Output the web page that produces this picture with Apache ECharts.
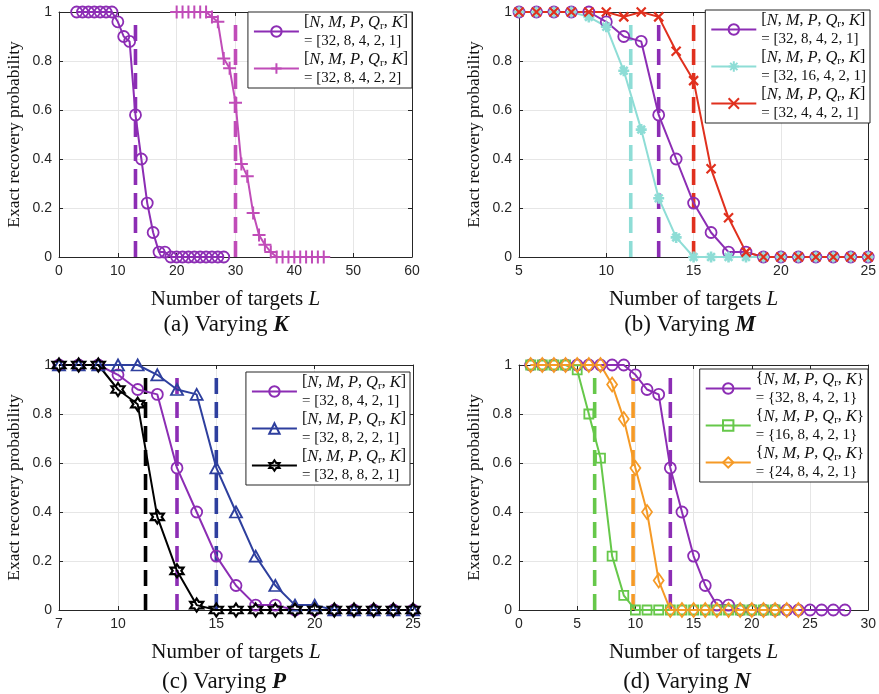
<!DOCTYPE html>
<html><head><meta charset="utf-8">
<script src="https://cdn.jsdelivr.net/npm/echarts@6/dist/echarts.min.js"></script>
<style>html,body{margin:0;padding:0;background:#fff}#c{width:879px;height:694px}</style>
</head><body><div id="c"></div>
<script>
// ---------- data ----------
const yTicks = [0, 0.2, 0.4, 0.6, 0.8, 1];
// (a) Varying K
const aL1 = [3,4,5,6,7,8,9,10,11,12,13,14,15,16,17,18,19,20,21,22,23,24,25,26,27,28];
const aV1 = [1,1,1,1,1,1,1,0.96,0.9,0.88,0.58,0.4,0.22,0.1,0.02,0.02,0,0,0,0,0,0,0,0,0,0];
const aL2 = [20,21,22,23,24,25,26,27,28,29,30,31,32,33,34,35,36,37,38,39,40,41,42,43,44,45];
const aV2 = [1,1,1,1,1,1,0.98,0.96,0.81,0.77,0.63,0.38,0.33,0.18,0.09,0.05,0.02,0,0,0,0,0,0,0,0,0];
const aDash = [13, 30];
// (b) Varying M
const bL = [5,6,7,8,9,10,11,12,13,14,15,16,17,18,19,20,21,22,23,24,25];
const bV8 = [1,1,1,1,1,0.96,0.9,0.88,0.58,0.4,0.22,0.1,0.02,0.02,0,0,0,0,0,0,0];
const bV16 = [1,1,1,1,0.98,0.94,0.76,0.52,0.24,0.08,0,0,0,0,0,0,0,0,0,0,0];
const bV4 = [1,1,1,1,1,1,0.98,1,0.98,0.84,0.72,0.36,0.16,0.02,0,0,0,0,0,0,0];
const bDash = [11.4, 13, 15];
// (c) Varying P
const cL = [7,8,9,10,11,12,13,14,15,16,17,18,19,20,21,22,23,24,25];
const cV4 = [1,1,1,0.96,0.9,0.88,0.58,0.4,0.22,0.1,0.02,0.02,0,0,0,0,0,0,0];
const cV2 = [1,1,1,1,1,0.96,0.9,0.88,0.58,0.4,0.22,0.1,0.02,0.02,0,0,0,0,0];
const cV8 = [1,1,1,0.9,0.84,0.38,0.16,0.02,0,0,0,0,0,0,0,0,0,0,0];
const cDash = [11.4, 13, 15];
const cXTicks = [7, 10, 15, 20, 25];
// (d) Varying N
const dL32 = [1,2,3,4,5,6,7,8,9,10,11,12,13,14,15,16,17,18,19,20,21,22,23,24,25,26,27,28];
const dV32 = [1,1,1,1,1,1,1,1,1,0.96,0.9,0.88,0.58,0.4,0.22,0.1,0.02,0.02,0,0,0,0,0,0,0,0,0,0];
const dL16 = [1,2,3,4,5,6,7,8,9,10,11,12,13,14,15,16,17,18,19,20,21,22];
const dV16 = [1,1,1,1,0.98,0.8,0.62,0.22,0.06,0,0,0,0,0,0,0,0,0,0,0,0,0];
const dL24 = [1,2,3,4,5,6,7,8,9,10,11,12,13,14,15,16,17,18,19,20,21,22,23,24];
const dV24 = [1,1,1,1,1,1,1,0.92,0.78,0.58,0.4,0.12,0,0,0,0,0,0,0,0,0,0,0,0];
const dDash = [6.5, 9.8, 13];
const DASH_TOP = 0.97;

// ---------- styles ----------
const C = {
  purple: '#8C2DB4', pink: '#C04CB8', cyan: '#8EDDD6', red: '#E0301E',
  blue: '#2E3F9E', black: '#000000', green: '#66C84A', orange: '#F59A26'
};
const SYM = {
  plus: 'path://M0,-10L0,10M-10,0L10,0',
  star: 'path://M0,-10L0,10M-10,0L10,0M-7,-7L7,7M-7,7L7,-7',
  cross: 'path://M-10,-10L10,10M-10,10L10,-10',
  hexa: 'path://M0,-10L2.887,-5L8.66,-5L5.77,0L8.66,5L2.887,5L0,10L-2.887,5L-8.66,5L-5.77,0L-8.66,-5L-2.887,-5Z'
};
const SERIF = 'Liberation Serif';
const SANS = 'Liberation Sans';
const AX = '#262626';

const grids = [
  {left: 59, top: 12, width: 353, height: 245},
  {left: 519, top: 12, width: 351, height: 245},
  {left: 59, top: 365, width: 354, height: 245},
  {left: 519, top: 365, width: 351, height: 245}
];
const xr = [
  {min: 0, max: 60, interval: 10},
  {min: 5, max: 25, interval: 5},
  {min: 7, max: 25, custom: cXTicks},
  {min: 0, max: 30, interval: 5}
];

const xAxes = [], yAxes = [];
grids.forEach((g, i) => {
  const r = xr[i];
  const base = {type: 'value', gridIndex: i, min: r.min, max: r.max};
  if (r.interval) base.interval = r.interval;
  const tick = {show: true, inside: true, length: 4, lineStyle: {color: AX, width: 1}};
  const lab = {show: true, color: AX, fontFamily: SANS, fontSize: 14, margin: 7, showMinLabel: true, showMaxLabel: true};
  if (r.custom) { tick.customValues = r.custom; lab.customValues = r.custom; }
  xAxes.push(Object.assign({}, base, {
    position: 'bottom',
    axisLine: {show: true, onZero: false, lineStyle: {color: AX, width: 1}},
    axisTick: tick, axisLabel: lab,
    splitLine: {show: true, lineStyle: {color: '#E6E6E6', width: 1}},
    name: 'Number of targets {i|L}', nameLocation: 'middle', nameGap: 32,
    nameTextStyle: {fontFamily: SERIF, fontSize: 21, color: '#111',
      rich: {i: {fontFamily: SERIF, fontSize: 21, fontStyle: 'italic', color: '#111'}}}
  }));
  xAxes.push(Object.assign({}, base, {
    position: 'top',
    axisLine: {show: true, onZero: false, lineStyle: {color: AX, width: 1}},
    axisTick: Object.assign({}, tick), axisLabel: {show: false}, splitLine: {show: false}
  }));
  const ybase = {type: 'value', gridIndex: i, min: 0, max: 1, interval: 0.2};
  yAxes.push(Object.assign({}, ybase, {
    position: 'left',
    axisLine: {show: true, onZero: false, lineStyle: {color: AX, width: 1}},
    axisTick: {show: true, inside: true, length: 4, lineStyle: {color: AX}},
    axisLabel: {show: true, color: AX, fontFamily: SANS, fontSize: 14, margin: 7},
    splitLine: {show: true, lineStyle: {color: '#E6E6E6', width: 1}},
    name: 'Exact recovery probability', nameLocation: 'middle', nameGap: 36,
    nameTextStyle: {fontFamily: SERIF, fontSize: 17.5, color: '#111'}
  }));
  yAxes.push(Object.assign({}, ybase, {
    position: 'right',
    axisLine: {show: true, onZero: false, lineStyle: {color: AX, width: 1}},
    axisTick: {show: true, inside: true, length: 4, lineStyle: {color: AX}},
    axisLabel: {show: false}, splitLine: {show: false}
  }));
});

function mk(name, xs, ys, color, symbol, size, gi, bw) {
  return {
    type: 'line', name, xAxisIndex: 2 * gi, yAxisIndex: 2 * gi,
    data: xs.map((x, k) => [x, ys[k]]),
    symbol, symbolSize: size, showSymbol: true, showAllSymbol: true, clip: false,
    color, lineStyle: {color, width: 2},
    itemStyle: {color: 'rgba(255,255,255,0)', borderColor: color, borderWidth: bw || 1.8},
    emphasis: {disabled: true}, z: 3
  };
}
function dash(L, color, gi) {
  return {
    type: 'line', xAxisIndex: 2 * gi, yAxisIndex: 2 * gi,
    data: [[L, 0], [L, DASH_TOP]], symbol: 'none', silent: true,
    lineStyle: {color, width: 3.6, type: [16, 8]}, z: 2, emphasis: {disabled: true}
  };
}

const series = [
  dash(aDash[0], C.purple, 0), dash(aDash[1], C.pink, 0),
  mk('a1', aL1, aV1, C.purple, 'circle', 11, 0),
  mk('a2', aL2, aV2, C.pink, SYM.plus, 13, 0, 2),
  dash(bDash[0], C.cyan, 1), dash(bDash[1], C.purple, 1), dash(bDash[2], C.red, 1),
  mk('b1', bL, bV8, C.purple, 'circle', 11, 1),
  mk('b2', bL, bV16, C.cyan, SYM.star, 11, 1, 2.6),
  mk('b3', bL, bV4, C.red, SYM.cross, 9, 1, 2.2),
  dash(cDash[0], C.black, 2), dash(cDash[1], C.purple, 2), dash(cDash[2], C.blue, 2),
  mk('c1', cL, cV4, C.purple, 'circle', 11, 2),
  mk('c2', cL, cV2, C.blue, 'triangle', [12, 11], 2),
  mk('c3', cL, cV8, C.black, SYM.hexa, 13, 2, 2.2),
  dash(dDash[0], C.green, 3), dash(dDash[1], C.orange, 3), dash(dDash[2], C.purple, 3),
  mk('d1', dL32, dV32, C.purple, 'circle', 11, 3),
  mk('d2', dL16, dV16, C.green, 'rect', 9, 3),
  mk('d3', dL24, dV24, C.orange, 'diamond', [10, 14], 3)
];

const HEAD_SQ = '{p|[}{i|N}{p|, }{i|M}{p|, }{i|P}{p|, }{i|Q}{s|r}{p|, }{i|K}{p|]}';
const HEAD_BR = '{p|{}{i|N}{p|, }{i|M}{p|, }{i|P}{p|, }{i|Q}{s|r}{p|, }{i|K}}';
const LABELS = {
  a1: HEAD_SQ + '\n= [32, 8, 4, 2, 1]', a2: HEAD_SQ + '\n= [32, 8, 4, 2, 2]',
  b1: HEAD_SQ + '\n= [32, 8, 4, 2, 1]', b2: HEAD_SQ + '\n= [32, 16, 4, 2, 1]', b3: HEAD_SQ + '\n= [32, 4, 4, 2, 1]',
  c1: HEAD_SQ + '\n= [32, 8, 4, 2, 1]', c2: HEAD_SQ + '\n= [32, 8, 2, 2, 1]', c3: HEAD_SQ + '\n= [32, 8, 8, 2, 1]',
  d1: HEAD_BR + '\n= {32, 8, 4, 2, 1}', d2: HEAD_BR + '\n= {16, 8, 4, 2, 1}', d3: HEAD_BR + '\n= {24, 8, 4, 2, 1}'
};
function legend(names, right, top) {
  return {
    data: names, orient: 'vertical', right, top, selectedMode: false,
    itemWidth: 45, itemHeight: 13, itemGap: 0, padding: [1, 4, 1, 5],
    backgroundColor: '#fff', borderColor: AX, borderWidth: 1,
    formatter: n => LABELS[n],
    textStyle: {fontFamily: SERIF, fontSize: 15, color: '#111', lineHeight: 18.5,
      rich: {
        p: {fontFamily: SERIF, fontSize: 16, color: '#111', lineHeight: 18.5},
        i: {fontFamily: SERIF, fontSize: 16.5, fontStyle: 'italic', color: '#111', lineHeight: 18.5},
        s: {fontFamily: SERIF, fontSize: 11, color: '#111', verticalAlign: 'bottom', lineHeight: 18.5}
      }}
  };
}

function sub(x, y, letter, v) {
  return {type: 'text', x, y, silent: true, style: {
    text: '(' + letter + ') Varying {b|' + v + '}', fontFamily: SERIF, fontSize: 23, fill: '#111',
    align: 'center', verticalAlign: 'middle',
    rich: {b: {fontFamily: SERIF, fontSize: 23, fontWeight: 'bold', fontStyle: 'italic', fill: '#111'}}
  }};
}

const chart = echarts.init(document.getElementById('c'), null, {renderer: 'canvas'});
chart.setOption({
  animation: false,
  backgroundColor: '#fff',
  grid: grids,
  xAxis: xAxes,
  yAxis: yAxes,
  legend: [
    legend(['a1', 'a2'], 467, 12),
    legend(['b1', 'b2', 'b3'], 9, 10),
    legend(['c1', 'c2', 'c3'], 469, 372),
    legend(['d1', 'd2', 'd3'], 11, 369)
  ],
  series,
  graphic: [sub(226, 325, 'a', 'K'), sub(690, 325, 'b', 'M'), sub(224, 682, 'c', 'P'), sub(687, 682, 'd', 'N')]
});
</script></body></html>
